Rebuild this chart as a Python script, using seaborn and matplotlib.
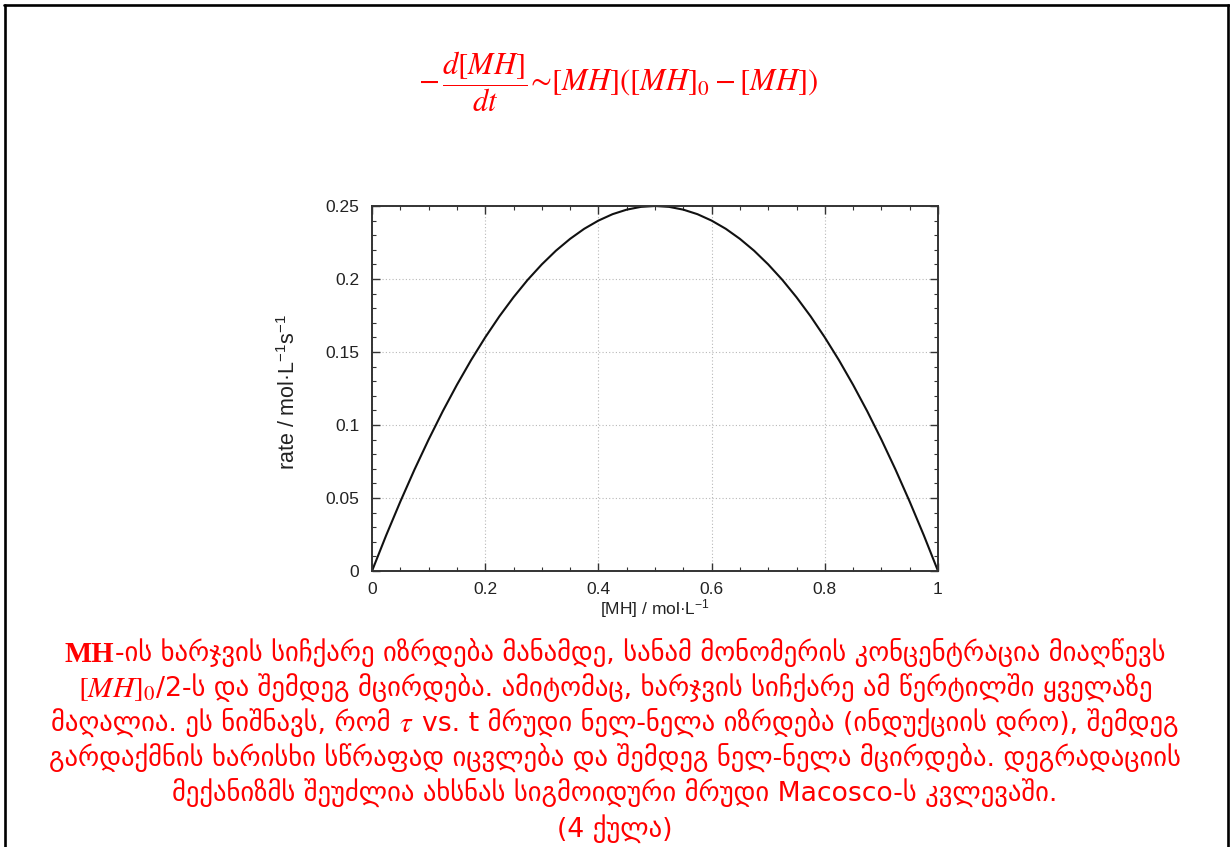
import numpy as np
import pandas as pd
import matplotlib
matplotlib.use("Agg")
import matplotlib.pyplot as plt
import seaborn as sns
from matplotlib.lines import Line2D
from matplotlib.ticker import MultipleLocator

# ---------------- data ----------------
mh_conc = [0.0, 0.025, 0.05, 0.075, 0.1, 0.125, 0.15, 0.175, 0.2, 0.225,
           0.25, 0.275, 0.3, 0.325, 0.35, 0.375, 0.4, 0.425, 0.45, 0.475,
           0.5, 0.525, 0.55, 0.575, 0.6, 0.625, 0.65, 0.675, 0.7, 0.725,
           0.75, 0.775, 0.8, 0.825, 0.85, 0.875, 0.9, 0.925, 0.95, 0.975, 1.0]
rate = [0.0, 0.0244, 0.0475, 0.0694, 0.09, 0.1094, 0.1275, 0.1444, 0.16, 0.1744,
        0.1875, 0.1994, 0.21, 0.2194, 0.2275, 0.2344, 0.24, 0.2444, 0.2475, 0.2494,
        0.25, 0.2494, 0.2475, 0.2444, 0.24, 0.2344, 0.2275, 0.2194, 0.21, 0.1994,
        0.1875, 0.1744, 0.16, 0.1444, 0.1275, 0.1094, 0.09, 0.0694, 0.0475, 0.0244, 0.0]

x_ticks = [0.0, 0.2, 0.4, 0.6, 0.8, 1.0]
x_tick_labels = ["0", "0.2", "0.4", "0.6", "0.8", "1"]
y_ticks = [0.0, 0.05, 0.1, 0.15, 0.2, 0.25]
y_tick_labels = ["0", "0.05", "0.1", "0.15", "0.2", "0.25"]

x_label = r"[MH] / mol·L$^{\mathregular{-1}}$"
y_label = r"rate / mol·L$^{\mathregular{-1}}$s$^{\mathregular{-1}}$"

formula = r"$-\,\dfrac{d[MH]}{dt}\!\sim\![MH]([MH]_0-[MH])$"

# paragraph: each line is a list of (text, kind)
para_lines = [
    [("MH", "bold"), ("-ის ხარჯვის სიჩქარე იზრდება მანამდე, სანამ მონომერის კონცენტრაცია მიაღწევს", "geo")],
    [(r"$[MH]_0$", "math"), ("/2-ს და შემდეგ მცირდება. ამიტომაც, ხარჯვის სიჩქარე ამ წერტილში ყველაზე", "geo")],
    [("მაღალია. ეს ნიშნავს, რომ", "geo"), (" ", "sp"), (r"$\tau$", "math"), (" ", "sp"),
     ("vs. t მრუდი ნელ-ნელა იზრდება (ინდუქციის დრო), შემდეგ", "geo")],
    [("გარდაქმნის ხარისხი სწრაფად იცვლება და შემდეგ ნელ-ნელა მცირდება. დეგრადაციის", "geo")],
    [("მექანიზმს შეუძლია ახსნას სიგმოიდური მრუდი Macosco-ს კვლევაში.", "geo")],
    [("(4 ქულა)", "geo")],
]

# ---------------- style ----------------
sns.set_theme(style="ticks")
plt.rcParams["font.family"] = ["Liberation Sans", "DejaVu Sans"]
plt.rcParams["mathtext.fontset"] = "custom"
plt.rcParams["mathtext.rm"] = "Liberation Sans"
plt.rcParams["mathtext.it"] = "Liberation Sans:italic"
plt.rcParams["mathtext.bf"] = "Liberation Sans:bold"

W, H = 1230, 847
RED = "#ff0000"
fig = plt.figure(figsize=(W / 100, H / 100), dpi=100)
fig.patch.set_facecolor("white")

# ---------------- chart ----------------
ax = fig.add_axes([372 / W, 1 - 571 / H, (938 - 372) / W, (571 - 206) / H])
df = pd.DataFrame({"MH": mh_conc, "rate": rate})
sns.lineplot(data=df, x="MH", y="rate", color="#111111", linewidth=1.5, ax=ax)
ax.set_xlim(0, 1)
ax.set_ylim(0, 0.25)
ax.set_xticks(x_ticks)
ax.set_xticklabels(x_tick_labels)
ax.set_yticks(y_ticks)
ax.set_yticklabels(y_tick_labels)
ax.xaxis.set_minor_locator(MultipleLocator(0.05))
ax.yaxis.set_minor_locator(MultipleLocator(0.01))
ax.tick_params(which="both", direction="in", top=True, right=True,
               color="#333333", labelcolor="#222222")
ax.tick_params(which="major", length=6, width=1.0, labelsize=12.5)
ax.tick_params(axis="x", which="major", pad=8)
ax.tick_params(axis="y", which="major", pad=9)
ax.tick_params(which="minor", length=3, width=0.8)
ax.grid(True, which="major", linestyle=(0, (1, 2)), color="#b8b8b8", linewidth=0.8)
for s in ax.spines.values():
    s.set_linewidth(1.4)
    s.set_color("#333333")
ax.set_xlabel(x_label, fontsize=12.5, color="#222222")
ax.set_ylabel(y_label, fontsize=15.5, color="#222222")
ax.xaxis.set_label_coords(0.5, -0.072)
ax.yaxis.set_label_coords(-0.128, 0.49)

# ---------------- formula ----------------
fig.text(618 / W, 1 - 82 / H, formula, ha="center", va="center",
         fontsize=22, color=RED, math_fontfamily="stix")

# ---------------- paragraph ----------------
renderer = fig.canvas.get_renderer()
geo_size = 19.2


def make_text(s, kind):
    if kind == "bold":
        return fig.text(0, 0, s, fontsize=geo_size + 1.5, color=RED, fontweight="bold",
                        family=["Liberation Serif"], va="baseline", ha="left")
    if kind == "math":
        return fig.text(0, 0, s, fontsize=geo_size + 2, color=RED, math_fontfamily="stix",
                        va="baseline", ha="left")
    return fig.text(0, 0, s, fontsize=geo_size, color=RED, family=["DejaVu Sans"],
                    va="baseline", ha="left")


def width(t):
    return t.get_window_extent(renderer).width


tmp1 = make_text("ა ა", "geo")
tmp2 = make_text("აა", "geo")
space_w = width(tmp1) - width(tmp2)
tmp1.remove()
tmp2.remove()

center_x = 615
for i, segs in enumerate(para_lines):
    base_y = 662 + 35 * i
    items = []
    for s, kind in segs:
        if kind == "sp":
            items.append((None, space_w))
        else:
            t = make_text(s, kind)
            items.append((t, width(t)))
    total = sum(w for _, w in items)
    x = center_x - total / 2
    for t, w in items:
        if t is not None:
            t.set_position((x / W, 1 - base_y / H))
        x += w

# ---------------- page frame ----------------
lw = 1.9
fig.add_artist(Line2D([4 / W, 1.0], [1 - 5 / H, 1 - 5 / H], color="black", lw=lw))
fig.add_artist(Line2D([5 / W, 5 / W], [0, 1 - 5 / H], color="black", lw=lw))
fig.add_artist(Line2D([1228 / W, 1228 / W], [0, 1 - 5 / H], color="black", lw=lw))

fig.savefig("out.png", dpi=100, facecolor="white")
